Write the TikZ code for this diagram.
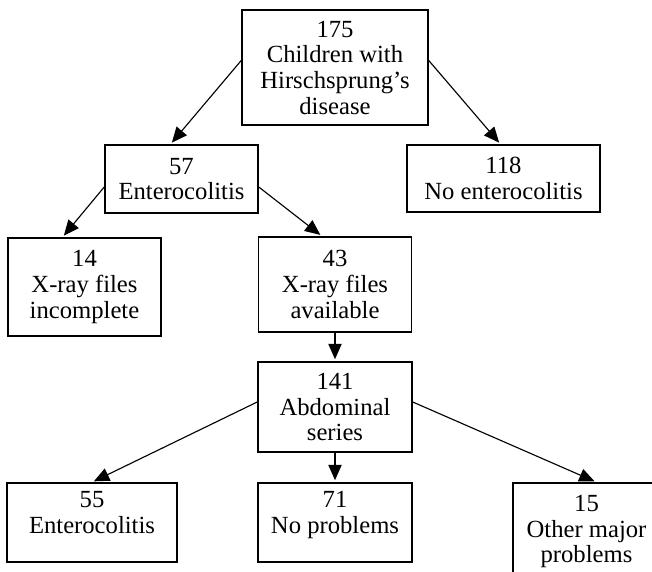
\documentclass[tikz,border=0pt]{standalone}
\usepackage{fontspec}
\setmainfont{Liberation Serif}
\usepackage{tikz}
\usetikzlibrary{arrows.meta,calc,positioning}

\begin{document}
\begin{tikzpicture}[x=0.4868pt,y=-0.4868pt,
  kasten/.style={draw,line width=0.75pt,align=center,inner sep=0pt,font=\fontsize{12}{12.5}\selectfont},
  groesse/.style 2 args={minimum width=#1*0.4868pt,minimum height=#2*0.4868pt},
  pfeil/.style={->,line width=0.55pt,shorten >=1pt},
  >={Triangle[length=7.5pt,width=6.5pt]}]
%Rahmen wie im Bild (652 x 572)
\clip (0,0) rectangle (652,572);
\node[kasten,groesse={186}{115}] (n175) at (335,67.5) {175\\Children with\\Hirschsprung's\\disease};
\node[kasten,groesse={153}{68}] (n57) at (181.5,179) {57\\Enterocolitis};
\node[kasten,groesse={193}{67}] (n118) at (503.5,178.5) {118\\No enterocolitis};
\node[kasten,groesse={153}{98}] (n14) at (84.5,287) {14\\X-ray files\\incomplete};
\node[kasten,groesse={153}{95}] (n43) at (335,284.5) {43\\X-ray files\\available};
\node[kasten,groesse={154}{90}] (n141) at (335,407) {141\\Abdominal\\series};
%Text in den unteren Kaesten etwas hoeher
\node[kasten,groesse={170}{79},text depth=10pt] (n55) at (92,522.5) {55\\Enterocolitis};
\node[kasten,groesse={154}{79},text depth=10pt] (n71) at (335,522.5) {71\\No problems};
%rechts unten abgeschnitten
\node[kasten,groesse={147}{97}] (n15) at (586.5,531.5) {15\\Other major\\problems};
\draw[pfeil] ($(n175.west)+(0,-7)$) -- ($(n57.north)+(-11,0)$);
\draw[pfeil] ($(n175.east)+(0,-7)$) -- ($(n118.north)+(-3,0)$);
\draw[pfeil] ($(n57.west)+(0,8)$) -- ($(n14.north)+(-22,0)$);
\draw[pfeil] ($(n57.east)+(0,8)$) -- ($(n43.north)+(-13,0)$);
\foreach \von/\nach in {n43/n141,n141/n71}{
\draw[pfeil] (\von.south) -- (\nach.north);
}
\draw[pfeil] ($(n141.west)+(0,-5)$) -- ($(n55.north)+(0,0)$);
\draw[pfeil] ($(n141.east)+(0,-5)$) -- ($(n15.north)+(10,0)$);
\end{tikzpicture}
\end{document}
